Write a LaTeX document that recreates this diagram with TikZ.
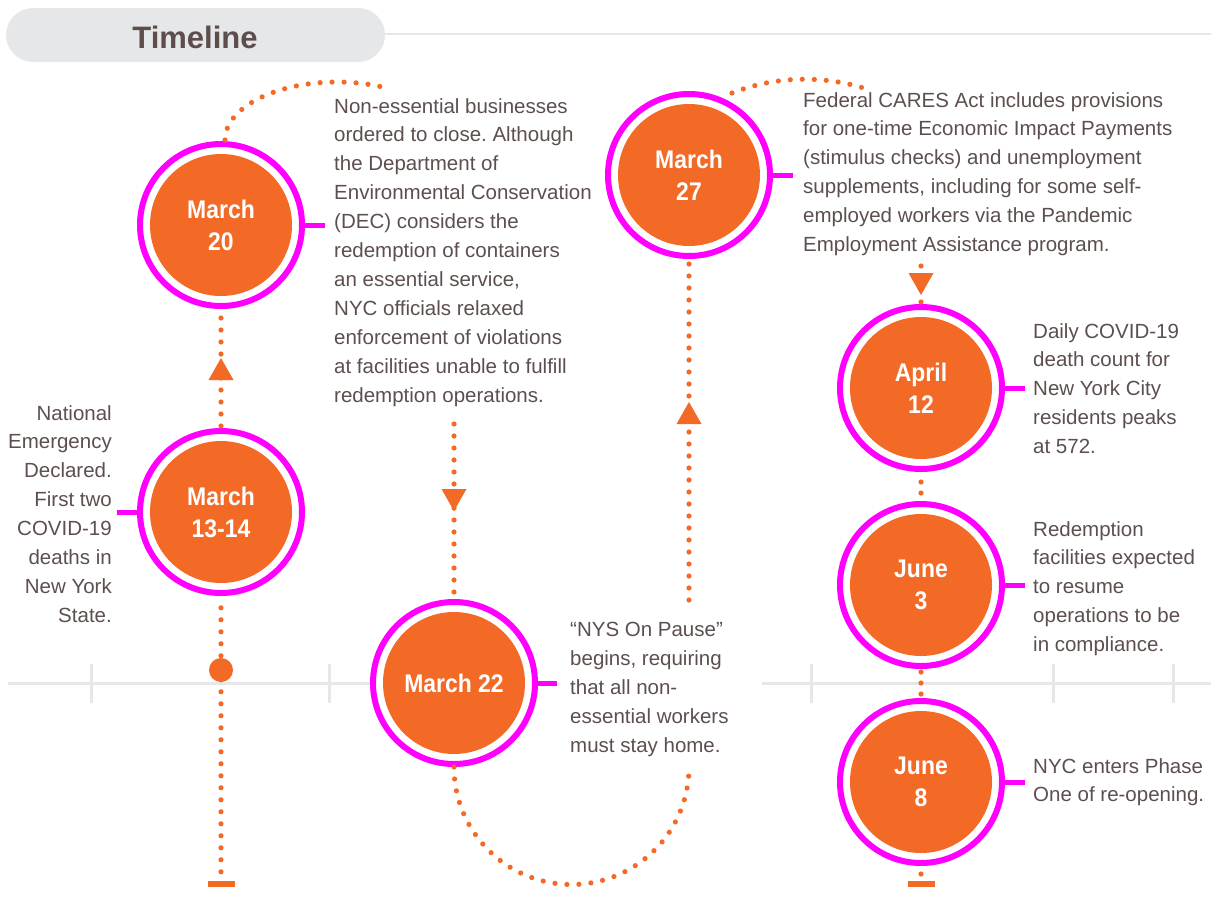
\documentclass[tikz,border=0pt]{standalone}
\usepackage{fontspec}
\setmainfont{Liberation Sans}
\newfontfamily\datefont[FakeStretch=0.9]{Liberation Sans}
\usetikzlibrary{calc}
\frenchspacing
\definecolor{tlorange}{HTML}{F36A26}
\definecolor{tlmag}{HTML}{FF00FF}
\definecolor{tltext}{HTML}{5C4F4E}
\definecolor{tltitle}{HTML}{5E4E4B}
\definecolor{tlgray}{HTML}{E6E7E8}
\begin{document}
\begin{tikzpicture}[x=1pt,y=-1pt,
  ring/.style={circle, draw=tlmag, line width=6pt, fill=white, minimum size=162pt, inner sep=0pt},
  datecirc/.style={circle, fill=tlorange, minimum size=142pt, inner sep=0pt, text=white, align=center, font=\datefont\bfseries\fontsize{25.5}{32}\selectfont},
  body/.style={inner sep=0pt, text=tltext, font=\fontsize{20.5}{28.9}\selectfont},
  stub/.style={draw=tlmag, line width=5pt},
  dotline/.style={draw=tlorange, line width=5.2pt, line cap=round, dash pattern=on 0pt off 12pt},
  shortdots/.style={dotline, dash pattern=on 0pt off 11pt},
  axisline/.style={draw=tlgray, line width=3pt},
  arrowtri/.style={fill=tlorange},
  endbar/.style={rectangle, fill=tlorange, minimum width=27pt, minimum height=6pt, inner sep=0pt}
]
\useasboundingbox (0,0) rectangle (1211,900);

% header
\node[rectangle, rounded corners=27pt, fill=tlgray, minimum width=379pt, minimum height=54pt, inner sep=0pt] (hdr) at (195.5,35) {};
\node[text=tltitle, font=\bfseries\fontsize{31}{31}\selectfont] (title) at (195,37) {Timeline};
\coordinate (hdrend) at (1211,34);
\draw[draw=tlgray, line width=2pt] (hdr.east |- hdrend) -- (hdrend);

% axis
\draw[axisline] (8,683) -- (454,683);
\draw[axisline] (91,664) -- (91,703);
\draw[axisline] (329,664) -- (329,703);
\draw[axisline] (762,683) -- (1211,683);
\draw[axisline] (811,664) -- (811,703);
\draw[axisline] (1053,664) -- (1053,703);
\draw[axisline] (1173,664) -- (1173,703);

% circles
\node[ring] (r1314) at (221,512) {};
\node[datecirc] (d1314) at (221,512) {March\\13-14};
\node[ring] (r20) at (221,225) {};
\node[datecirc] (d20) at (221,225) {March\\20};
\node[ring] (r22) at (454,683) {};
\node[datecirc] (d22) at (454,683) {March 22};
\node[ring] (r27) at (689,175) {};
\node[datecirc] (d27) at (689,175) {March\\27};
\node[ring] (r12) at (921,388) {};
\node[datecirc] (d12) at (921,388) {April\\12};
\node[ring] (r3) at (921,585) {};
\node[datecirc] (d3) at (921,585) {June\\3};
\node[ring] (r8) at (921,782) {};
\node[datecirc] (d8) at (921,782) {June\\8};

% texts
\node[body, anchor=north east, align=right] (t1314) at (112,405) {National\\Emergency\\Declared.\\First two\\COVID-19\\deaths in\\New York\\State.};
\node[body, anchor=north west, align=left] (t20) at (334,98) {Non-essential businesses\\ordered to close. Although\\the Department of\\Environmental Conservation\\(DEC) considers the\\redemption of containers\\an essential service,\\NYC officials relaxed\\enforcement of violations\\at facilities unable to fulfill\\redemption operations.};
\node[body, anchor=north west, align=left] (t22) at (570,622) {“NYS On Pause”\\begins, requiring\\that all non-\\essential workers\\must stay home.};
\node[body, anchor=north west, align=left] (t27) at (803,92) {Federal CARES Act includes provisions\\for one-time Economic Impact Payments\\(stimulus checks) and unemployment\\supplements, including for some self-\\employed workers via the Pandemic\\Employment Assistance program.};
\node[body, anchor=north west, align=left] (t12) at (1033,323) {Daily COVID-19\\death count for\\New York City\\residents peaks\\at 572.};
\node[body, anchor=north west, align=left] (t3) at (1033,521) {Redemption\\facilities expected\\to resume\\operations to be\\in compliance.};
\node[body, anchor=north west, align=left] (t8) at (1033,758) {NYC enters Phase\\One of re-opening.};

% stubs
\draw[stub, shorten >=5pt] (r1314.west) -- (r1314.west -| t1314.east);
\draw[stub, shorten >=9pt] (r20.east) -- (r20.east -| t20.west);
\draw[stub, shorten >=13pt] (r22.east) -- (r22.east -| t22.west);
\draw[stub, shorten >=10pt] (r27.east) -- (r27.east -| t27.west);
\draw[stub, shorten >=8pt] (r12.east) -- (r12.east -| t12.west);
\draw[stub, shorten >=8pt] (r3.east) -- (r3.east -| t3.west);
\draw[stub, shorten >=8pt] (r8.east) -- (r8.east -| t8.west);

% end bars and big dot
\node[endbar] (bar1) at (221,884) {};
\node[endbar] (bar2) at (921,884) {};
\fill[tlorange] (221,670) circle[radius=12pt];

% dotted connectors
\draw[dotline] ($(bar1.north)+(0,-9)$) -- ($(r1314.south)+(0,8)$);
\draw[dotline] ($(r1314.north)+(0,-2)$) -- (r20.south);
\coordinate (a20) at ($(r20.north)+(4,-1)$);
\draw[dotline] (a20) arc[start angle=180, end angle=61.8, x radius=112pt, y radius=58pt];
\coordinate (v22) at (454,424);
\draw[dotline] (v22) -- (r22.north);
\draw[dotline] (r22.south) arc[start angle=180, end angle=360, radius=117.5pt];
\coordinate (v27) at (689,600);
\draw[dotline] (v27) -- (r27.south);
\coordinate (a27) at (732,93);
\draw[dotline] (a27) arc[start angle=111.4, end angle=71.6, radius=200pt];
\coordinate (v12) at (921,266);
\draw[dotline] (v12) -- (r12.north);
\draw[shortdots] ($(r12.south)+(0,10)$) -- (r3.north);
\draw[shortdots] ($(r3.south)+(0,3)$) -- (r8.north);
\draw[dotline] ($(r8.south)+(0,8)$) -- (bar2.north);

% arrow triangles
\fill[arrowtri] (221,358) -- (233.5,380) -- (208.5,380) -- cycle;
\fill[arrowtri] (454,511) -- (466.5,489) -- (441.5,489) -- cycle;
\fill[arrowtri] (689,402) -- (701.5,424) -- (676.5,424) -- cycle;
\fill[arrowtri] (921,295) -- (933.5,273) -- (908.5,273) -- cycle;
\end{tikzpicture}
\end{document}
